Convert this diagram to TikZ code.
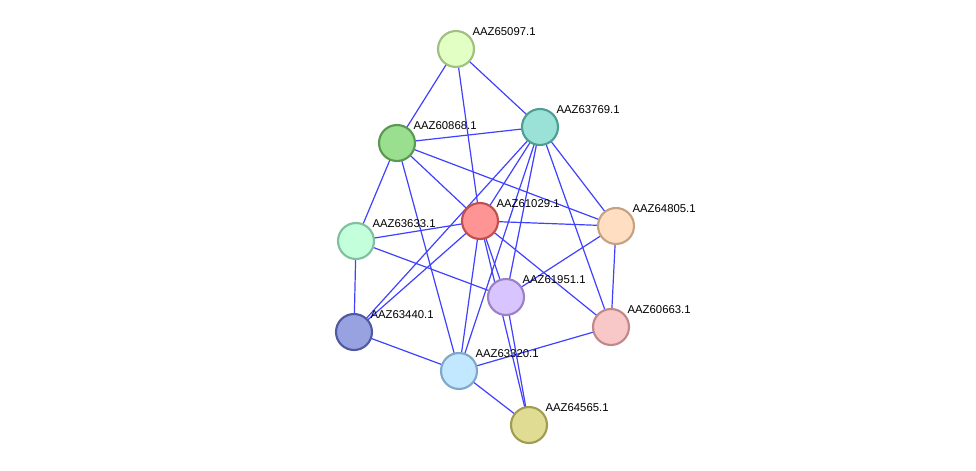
\documentclass[tikz,border=0pt]{standalone}
\usepackage{fontspec}
\setmainfont{Liberation Sans}
\begin{document}
\begin{tikzpicture}[x=0.75pt,y=-0.75pt,
  p/.style={circle,minimum size=27pt,inner sep=0pt,line width=1.6pt},
  e/.style={draw=blue!75!white,line width=0.9pt},
  l/.style={font=\fontsize{8.5pt}{9pt}\selectfont,anchor=south west,inner sep=1pt}]
\useasboundingbox (0,0) rectangle (976,471);
\def\N#1#2#3#4#5{\node[p,fill=#4,draw=#5] (#1) at (#2,#3) {};
  \node[l] (L#1) at (#2+15,#3-12) {AAZ#1.1};}
\definecolor{a1}{HTML}{E2FFC4}\definecolor{b1}{HTML}{A0C080}
\definecolor{a2}{HTML}{9AE2D8}\definecolor{b2}{HTML}{4E9E94}
\definecolor{a3}{HTML}{9ADE90}\definecolor{b3}{HTML}{5A9A50}
\definecolor{a4}{HTML}{FF9494}\definecolor{b4}{HTML}{C05050}
\definecolor{a5}{HTML}{FFDEC2}\definecolor{b5}{HTML}{C4A282}
\definecolor{a6}{HTML}{C2FFDA}\definecolor{b6}{HTML}{80C0A0}
\definecolor{a7}{HTML}{D8C4FF}\definecolor{b7}{HTML}{9A82C4}
\definecolor{a8}{HTML}{F8C8C8}\definecolor{b8}{HTML}{C08888}
\definecolor{a9}{HTML}{98A2E0}\definecolor{b9}{HTML}{505AA0}
\definecolor{a10}{HTML}{C2E8FF}\definecolor{b10}{HTML}{80A8C8}
\definecolor{a11}{HTML}{E0DC94}\definecolor{b11}{HTML}{A09C50}
\begin{scope}[on background layer/.style={}]
\coordinate (c65097) at (456,49);
\end{scope}
% edges drawn first using coordinates of nodes defined below via a two-pass trick
\path (456,49) coordinate (x65097) (540,127) coordinate (x63769) (397,143) coordinate (x60868)
 (480,221) coordinate (x61029) (616,226) coordinate (x64805) (356,241) coordinate (x63633)
 (506,297) coordinate (x61951) (611,327) coordinate (x60663) (354,332) coordinate (x63440)
 (459,371) coordinate (x63320) (529,425) coordinate (x64565);
\foreach \a/\b in {65097/60868,65097/63769,65097/61029,60868/63769,60868/61029,60868/64805,
 60868/63633,60868/63320,63769/61029,63769/63440,63769/63320,63769/61951,63769/64805,63769/60663,
 61029/63633,61029/64805,61029/61951,61029/60663,61029/63320,61029/64565,61029/63440,
 63633/61951,63633/63440,64805/61951,64805/60663,61951/64565,63440/63320,63320/60663,63320/64565}
 \draw[e] (x\a) -- (x\b);
\N{65097}{456}{49}{a1}{b1}
\N{63769}{540}{127}{a2}{b2}
\N{60868}{397}{143}{a3}{b3}
\N{61029}{480}{221}{a4}{b4}
\N{64805}{616}{226}{a5}{b5}
\N{63633}{356}{241}{a6}{b6}
\N{61951}{506}{297}{a7}{b7}
\N{60663}{611}{327}{a8}{b8}
\N{63440}{354}{332}{a9}{b9}
\N{63320}{459}{371}{a10}{b10}
\N{64565}{529}{425}{a11}{b11}
\end{tikzpicture}
\end{document}
